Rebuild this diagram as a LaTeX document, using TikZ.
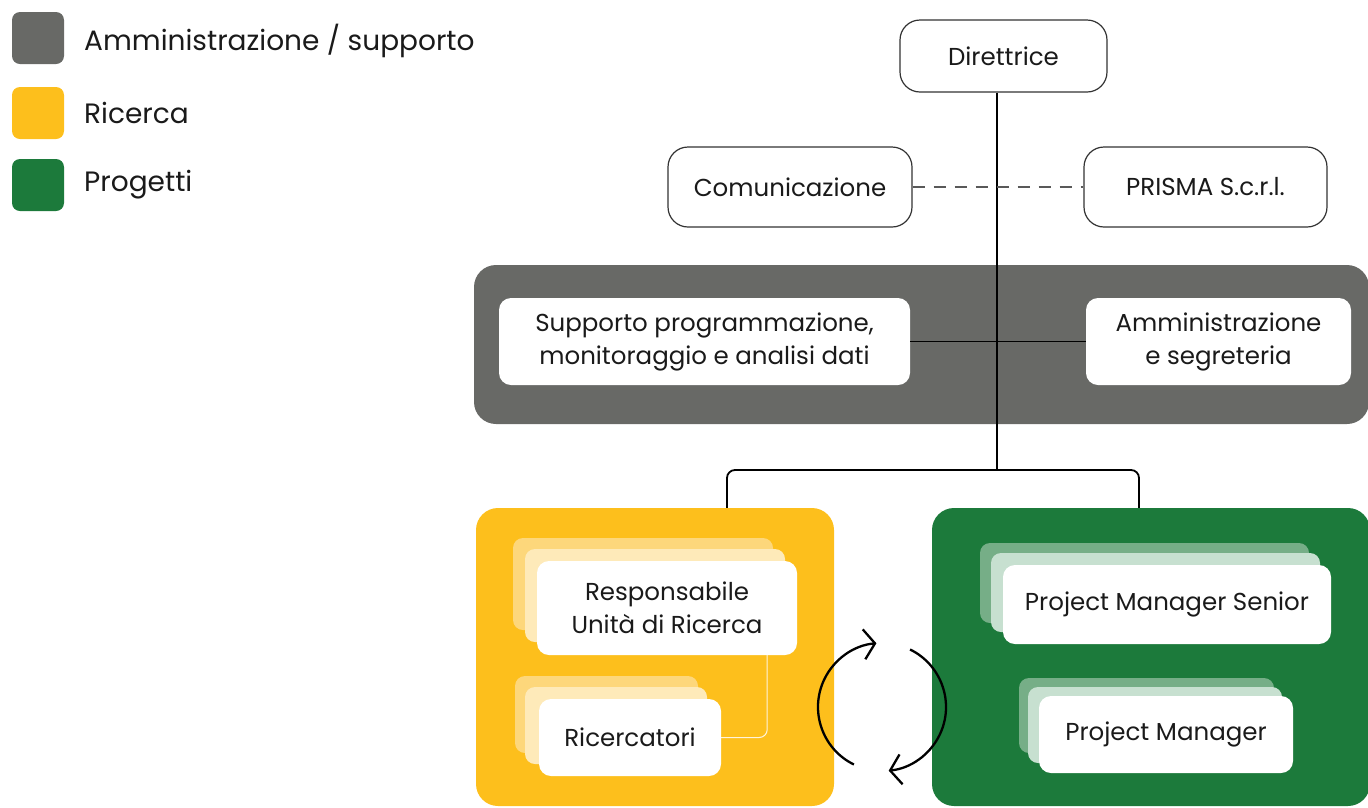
\documentclass[tikz,border=0pt]{standalone}
\usepackage{fontspec}
\setmainfont{Poppins}
\usepackage{tikz}
\usetikzlibrary{arrows.meta,calc}

\definecolor{admingray}{HTML}{686966}
\definecolor{researchyellow}{HTML}{FDBF1C}
\definecolor{projectgreen}{HTML}{1C7A3B}
\definecolor{yellowfar}{HTML}{FDD77B}
\definecolor{yellowmid}{HTML}{FEEAB9}
\definecolor{greenfar}{HTML}{76AE87}
\definecolor{greenmid}{HTML}{C7E0D0}
\definecolor{inkblack}{HTML}{1A1A1A}

\tikzset{
    topbox/.style={draw=black!80, line width=1.2pt, fill=white, rounded corners=20pt, align=center, inner sep=0pt},
    whitebox/.style={fill=white, rounded corners=12pt, align=center, inner sep=0pt},
    panel/.style={rounded corners=22pt, inner sep=0pt},
    legendbox/.style={rounded corners=8pt, minimum size=52pt, inner sep=0pt},
    legendtext/.style={anchor=west, inner sep=0pt, font=\fontsize{28}{33}\selectfont},
    link/.style={line width=1.8pt, draw=black},
    dashlink/.style={line width=1.6pt, draw=black!65, dash pattern=on 12pt off 9pt},
    cyclearrow/.style={line width=2.3pt, -{Straight Barb[length=11pt,width=30pt,line width=2.3pt]}}
}

\begin{document}
\begin{tikzpicture}[x=1pt,y=-1pt, font=\fontsize{24.5}{33}\selectfont, text=inkblack]
\useasboundingbox (0,0) rectangle (1368,807);

% Legend
\node[legendbox, fill=admingray] (legadm) at (38,38) {};
\node[legendtext] (legadmtxt) at (84,41) {Amministrazione / supporto};
\node[legendbox, fill=researchyellow] (legric) at (38,113) {};
\node[legendtext] (legrictxt) at (84,113) {Ricerca};
\node[legendbox, fill=projectgreen] (legprog) at (38,185) {};
\node[legendtext] (legprogtxt) at (84,185) {Progetti};

% Administration band
\node[panel, fill=admingray, minimum width=895pt, minimum height=159pt] (band) at (921.5,344.5) {};

% Research and project panels
\node[panel, fill=researchyellow, minimum width=358pt, minimum height=298pt] (ricerca) at (655,657) {};
\node[panel, fill=projectgreen, minimum width=438pt, minimum height=298pt] (progetti) at (1151,657) {};

% Top boxes
\node[topbox, minimum width=207pt, minimum height=72pt] (dir) at (1003.5,56) {Direttrice};
\node[topbox, minimum width=244pt, minimum height=80pt] (com) at (790,187) {Comunicazione};
\node[topbox, minimum width=243pt, minimum height=80pt] (prisma) at (1205.5,187) {PRISMA S.c.r.l.};

% Main line and bus
\coordinate (hub) at (997,470);
\draw[link] ([xshift=-6.5pt]dir.south) -- (hub);
\draw[link, rounded corners=8pt] ([xshift=72pt]ricerca.north) |- (hub) -| ([xshift=-12pt]progetti.north);

% Staff offices
\draw[dashlink] (com.east) -- (prisma.west);

% Support offices
\node[whitebox, minimum width=411pt, minimum height=87pt] (supp) at (704.5,341.5) {Supporto programmazione,\\monitoraggio e analisi dati};
\node[whitebox, minimum width=265pt, minimum height=87pt] (amm) at (1218.5,341.5) {Amministrazione\\e segreteria};
\draw[link] (supp.east) -- (amm.west);

% Research cards
\fill[yellowfar, rounded corners=10pt] (513,538) rectangle (773,630);
\fill[yellowmid, rounded corners=10pt] (525,549) rectangle (785,642);
\node[whitebox, minimum width=260pt, minimum height=94pt] (resp) at (667,608) {Responsabile\\Unità di Ricerca};
\fill[yellowfar, rounded corners=10pt] (515,676) rectangle (698,753);
\fill[yellowmid, rounded corners=10pt] (525,687) rectangle (707,764);
\node[whitebox, minimum width=182pt, minimum height=77pt] (ricerc) at (630,737.5) {Ricercatori};
\draw[line width=1pt, draw=yellowmid!50!white, rounded corners=8pt] ([xshift=-30pt]resp.south east) |- (ricerc.east);

% Project cards
\fill[greenfar, rounded corners=10pt] (980,543) rectangle (1309,623);
\fill[greenmid, rounded corners=10pt] (991,553) rectangle (1320,632);
\node[whitebox, minimum width=328pt, minimum height=79pt] (pms) at (1167,604.5) {Project Manager Senior};
\fill[greenfar, rounded corners=10pt] (1019,678) rectangle (1274,753);
\fill[greenmid, rounded corners=10pt] (1028,687) rectangle (1282,763);
\node[whitebox, minimum width=254pt, minimum height=77pt] (pm) at (1166,734.5) {Project Manager};

% Exchange cycle
\coordinate (cyc) at (882,707);
\draw[cyclearrow] ($(cyc)+(116:64)$) arc[start angle=116, end angle=265, radius=64];
\draw[cyclearrow] ($(cyc)+(-64:64)$) arc[start angle=-64, end angle=84, radius=64];

\end{tikzpicture}
\end{document}
